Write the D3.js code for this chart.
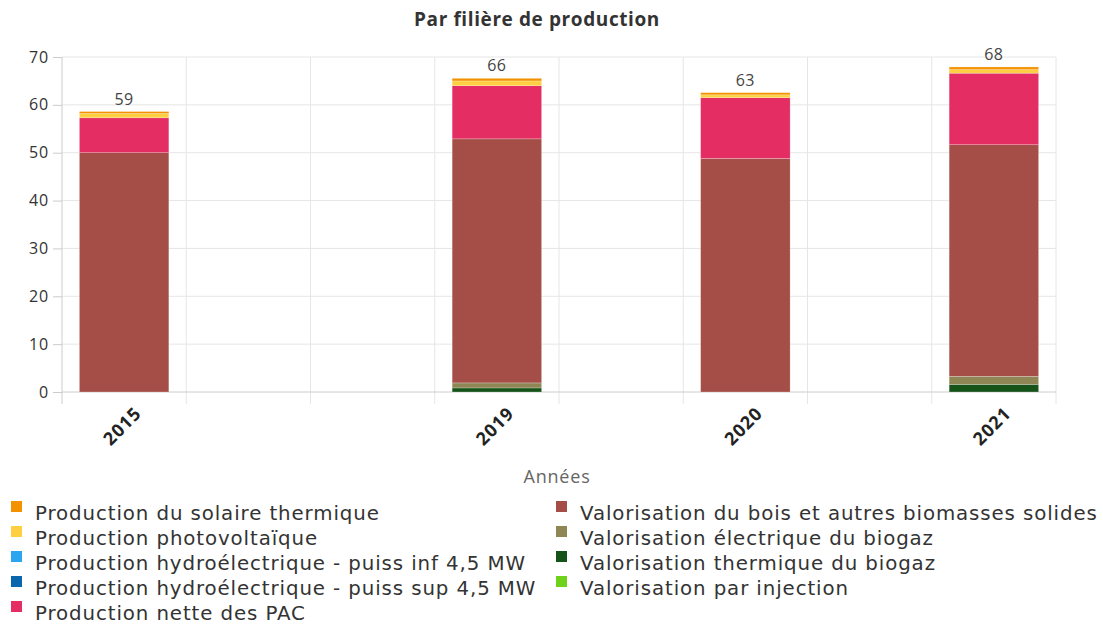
<!DOCTYPE html>
<html lang="fr">
<head>
<meta charset="utf-8">
<title>Par filière de production</title>
<script src="https://cdnjs.cloudflare.com/ajax/libs/d3/7.8.5/d3.min.js"></script>
<style>
  body { margin: 0; background: #fff; }
  svg { display: block; font-family: "Open Sans", sans-serif; }
  .grid line { stroke: #e6e6e6; }
  .y-axis text { font-family: "Open Sans", sans-serif; font-size: 16px; fill: #333; letter-spacing: 0.8px; }
  .x-axis text { font-size: 18px; font-weight: bold; fill: #222; letter-spacing: 1px; }
  .legend text { font-family: "DejaVu Sans", sans-serif; font-size: 19.8px; fill: #333; letter-spacing: 0.9px; }
</style>
</head>
<body>
<div id="chart"></div>
<script>
// years shown on the x axis, placed in 8 slots (empty slots are years with no data)
const slots = ["2015", "s1", "s2", "2019", "s3", "2020", "s4", "2021"];
const years = ["2015", "2019", "2020", "2021"];
const yTicks = [0, 10, 20, 30, 40, 50, 60, 70];

// series, listed in legend order (first one is on top of the stack)
const seriesNames = [
  "Production du solaire thermique",
  "Production photovoltaïque",
  "Production hydroélectrique - puiss inf 4,5 MW",
  "Production hydroélectrique - puiss sup 4,5 MW",
  "Production nette des PAC",
  "Valorisation du bois et autres biomasses solides",
  "Valorisation électrique du biogaz",
  "Valorisation thermique du biogaz",
  "Valorisation par injection"
];
const seriesColors = ["#f39200", "#fdcf41", "#2aa6f0", "#0a67ad", "#e32d63",
                      "#a54e47", "#8f8655", "#155319", "#6dd219"];

// values per year: 2015, 2019, 2020, 2021
const solaire   = [0.4, 0.55, 0.45, 0.55];
const photovolt = [0.9, 1.0, 0.6, 0.75];
const hydroInf  = [0, 0, 0, 0];
const hydroSup  = [0, 0, 0, 0];
const pac       = [7.3, 11.1, 12.7, 14.95];
const bois      = [50, 51.0, 48.8, 48.4];
const biogazElec = [0, 1.05, 0, 1.67];
const biogazTherm = [0, 0.85, 0, 1.6];
const injection = [0, 0, 0, 0];

const seriesValues = [solaire, photovolt, hydroInf, hydroSup, pac, bois, biogazElec, biogazTherm, injection];

const width = 1103, height = 624;
const mLeft = 62, mRight = 1056, mTop = 57, mBottom = 392;

const svg = d3.select("#chart").append("svg")
  .attr("width", width).attr("height", height);

// rows for stacking
const rows = years.map((yr, i) => {
  const r = { year: yr };
  seriesNames.forEach((s, k) => { r[s] = seriesValues[k][i]; });
  return r;
});

const stacked = d3.stack().keys(seriesNames.slice().reverse())(rows);

const x = d3.scaleBand().domain(slots).range([mLeft, mRight]);
const y = d3.scaleLinear().domain([0, 70]).range([mBottom, mTop]);

// horizontal grid
svg.append("g").attr("class", "grid")
  .selectAll("line").data(yTicks.filter(d => d > 0)).join("line")
  .attr("x1", mLeft).attr("x2", mRight)
  .attr("y1", d => y(d)).attr("y2", d => y(d));

// vertical grid on slot boundaries
const bounds = slots.map(s => x(s)).concat([mRight]);
svg.append("g").attr("class", "grid")
  .selectAll("line").data(bounds.slice(1)).join("line")
  .attr("x1", d => d).attr("x2", d => d)
  .attr("y1", mTop).attr("y2", mBottom + 12);

// y axis
const yAxis = svg.append("g").attr("class", "y-axis")
  .attr("transform", `translate(${mLeft},0)`)
  .call(d3.axisLeft(y).tickValues(yTicks).tickSize(9).tickPadding(4));
yAxis.attr("font-family", null).attr("font-size", null);
yAxis.select(".domain").remove();
yAxis.selectAll(".tick line").attr("stroke", "#ccc");
svg.append("line").attr("x1", mLeft).attr("x2", mLeft)
  .attr("y1", mTop).attr("y2", mBottom + 12).attr("stroke", "#ccc");

// baseline
svg.append("line").attr("x1", mLeft).attr("x2", mRight)
  .attr("y1", mBottom).attr("y2", mBottom).attr("stroke", "#ccc");

// bars
const barW = x.bandwidth() * 0.72;
svg.append("g").selectAll("g").data(stacked).join("g")
  .attr("fill", d => seriesColors[seriesNames.indexOf(d.key)])
  .selectAll("rect").data(d => d).join("rect")
  .attr("x", d => x(d.data.year) + (x.bandwidth() - barW) / 2)
  .attr("width", barW)
  .attr("y", d => y(d[1]))
  .attr("height", d => y(d[0]) - y(d[1]))
  .attr("stroke", "#fff").attr("stroke-opacity", 0.4).attr("stroke-width", 0.6);

// totals
svg.append("g").selectAll("text").data(rows).join("text")
  .attr("x", d => x(d.year) + x.bandwidth() / 2)
  .attr("y", d => y(d3.sum(seriesNames, s => d[s])) - 7)
  .attr("text-anchor", "middle")
  .attr("font-size", 16).attr("fill", "#444").attr("letter-spacing", 0.6)
  .text(d => Math.round(d3.sum(seriesNames, s => d[s])));

// x labels
svg.append("g").attr("class", "x-axis").selectAll("text").data(years).join("text")
  .attr("transform", d => `translate(${x(d) + x.bandwidth() / 2 + 14},${mBottom + 18}) rotate(-45)`)
  .attr("text-anchor", "end")
  .attr("dy", "0.35em")
  .text(d => d);

// axis title
svg.append("text").attr("x", 557).attr("y", 483)
  .attr("text-anchor", "middle").attr("font-size", 18).attr("fill", "#666")
  .attr("letter-spacing", 0.8)
  .text("Années");

// title
svg.append("text").attr("x", 537).attr("y", 26)
  .attr("text-anchor", "middle").attr("font-size", 19).attr("font-weight", "bold")
  .attr("fill", "#333").attr("letter-spacing", 0.6).text("Par filière de production");

// legend
const legend = svg.append("g").attr("class", "legend")
  .selectAll("g").data(seriesNames).join("g")
  .attr("transform", (d, i) => i < 5
    ? `translate(11,${520 + i * 25})`
    : `translate(556,${520 + (i - 5) * 25})`);
legend.append("rect").attr("width", 11).attr("height", 11).attr("y", -19)
  .attr("fill", (d, i) => seriesColors[i]);
legend.append("text").attr("x", 24).attr("y", 0)
  .text(d => d);
</script>
</body>
</html>
